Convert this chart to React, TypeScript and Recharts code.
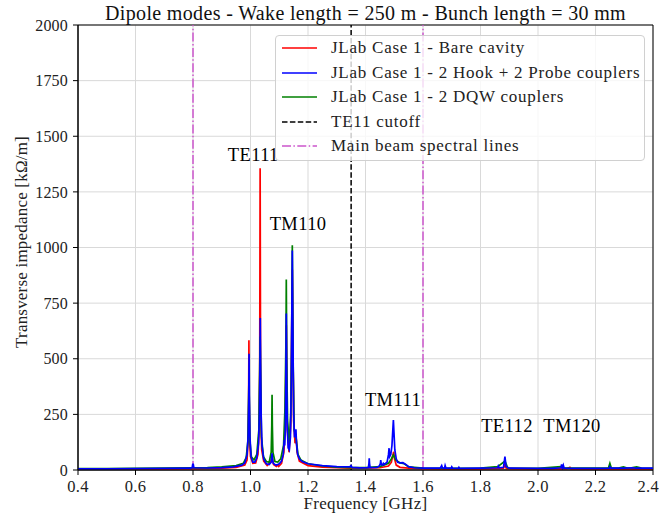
import React from 'react';
import {
  LineChart, Line, XAxis, YAxis, CartesianGrid, ReferenceLine, ReferenceArea, ReferenceDot,
} from 'recharts';

// [frequency GHz, transverse impedance kΩ/m]
const bareCavity: [number, number][] = [
  [0.4, 4], [0.5, 4], [0.6, 5], [0.7, 5], [0.8, 6], [0.9, 8], [0.95, 12], [0.98, 22],
  [0.988, 45], [0.992, 140], [0.9935, 300], [0.9945, 583], [0.9955, 300], [0.997, 130],
  [1.0, 60], [1.008, 30], [1.018, 32], [1.026, 70], [1.03, 180], [1.032, 450], [1.0335, 1356],
  [1.035, 450], [1.0365, 200], [1.039, 90], [1.046, 40], [1.058, 20], [1.07, 35], [1.075, 60],
  [1.08, 25], [1.09, 16], [1.0946, 22], [1.098, 16], [1.108, 30], [1.116, 80], [1.121, 200],
  [1.1245, 650], [1.128, 180], [1.134, 80], [1.14, 200], [1.1454, 900], [1.15, 220],
  [1.155, 120], [1.158, 160], [1.162, 80], [1.17, 40], [1.2, 20], [1.25, 13], [1.3, 10],
  [1.35, 8], [1.4, 8], [1.45, 10], [1.48, 18], [1.49, 35], [1.495, 65], [1.498, 82],
  [1.501, 50], [1.507, 22], [1.52, 12], [1.55, 8], [1.6, 6], [1.7, 5], [1.8, 5], [1.88, 8],
  [1.885, 25], [1.89, 6], [2.0, 5], [2.1, 6], [2.111, 12], [2.115, 5], [2.2, 5], [2.3, 5],
  [2.4, 5],
];

const hookProbe: [number, number][] = [
  [0.4, 5], [0.5, 5], [0.6, 6], [0.7, 7], [0.79, 8], [0.797, 10], [0.799, 25], [0.801, 25],
  [0.803, 10], [0.85, 9], [0.9, 11], [0.94, 14], [0.97, 22], [0.98, 32], [0.988, 70],
  [0.992, 160], [0.994, 330], [0.995, 522], [0.996, 330], [0.998, 150], [1.002, 60],
  [1.008, 35], [1.015, 35], [1.022, 55], [1.028, 120], [1.031, 250], [1.033, 480], [1.034, 683],
  [1.035, 480], [1.037, 250], [1.04, 110], [1.046, 50], [1.055, 28], [1.065, 25], [1.072, 35],
  [1.074, 60], [1.075, 75], [1.076, 55], [1.079, 30], [1.088, 22], [1.094, 24], [1.1, 28],
  [1.108, 40], [1.114, 70], [1.117, 135], [1.119, 110], [1.121, 180], [1.123, 400],
  [1.1245, 703], [1.126, 400], [1.128, 190], [1.131, 100], [1.135, 90], [1.139, 150],
  [1.142, 400], [1.144, 750], [1.1454, 986], [1.147, 700], [1.15, 260], [1.153, 150],
  [1.156, 150], [1.158, 183], [1.16, 120], [1.164, 70], [1.17, 50], [1.18, 38], [1.2, 28],
  [1.25, 20], [1.3, 15], [1.345, 14], [1.35, 20], [1.353, 12], [1.38, 10], [1.41, 11],
  [1.412, 30], [1.413, 53], [1.414, 30], [1.416, 11], [1.44, 12], [1.448, 18], [1.452, 30],
  [1.453, 45], [1.455, 25], [1.459, 22], [1.462, 30], [1.465, 25], [1.475, 35], [1.48, 70],
  [1.482, 98], [1.484, 60], [1.488, 70], [1.492, 110], [1.495, 180], [1.497, 225],
  [1.499, 170], [1.502, 90], [1.507, 50], [1.512, 35], [1.52, 32], [1.53, 33], [1.54, 25],
  [1.55, 15], [1.57, 10], [1.6, 8], [1.66, 8], [1.665, 20], [1.668, 8], [1.675, 8],
  [1.677, 20], [1.68, 8], [1.698, 8], [1.7, 14], [1.703, 8], [1.723, 7], [1.725, 12],
  [1.728, 7], [1.8, 8], [1.86, 10], [1.862, 18], [1.865, 10], [1.88, 12], [1.885, 60],
  [1.889, 15], [1.9, 8], [2.0, 7], [2.05, 7], [2.08, 10], [2.082, 25], [2.085, 10],
  [2.088, 22], [2.091, 8], [2.15, 7], [2.2, 7], [2.248, 8], [2.25, 15], [2.254, 8],
  [2.3, 8], [2.33, 10], [2.34, 8], [2.4, 8],
];

const dqw: [number, number][] = [
  [0.4, 6], [0.5, 6], [0.6, 7], [0.7, 8], [0.8, 10], [0.85, 11], [0.9, 14], [0.95, 20],
  [0.975, 30], [0.985, 55], [0.991, 130], [0.9945, 400], [0.998, 130], [1.003, 60],
  [1.012, 45], [1.022, 70], [1.029, 180], [1.0335, 600], [1.038, 150], [1.045, 60],
  [1.055, 38], [1.065, 35], [1.072, 80], [1.074, 200], [1.075, 338], [1.076, 200],
  [1.078, 80], [1.085, 38], [1.095, 36], [1.105, 50], [1.115, 110], [1.12, 280],
  [1.1235, 600], [1.1245, 856], [1.126, 500], [1.129, 220], [1.135, 120], [1.14, 250],
  [1.143, 550], [1.1454, 1010], [1.148, 500], [1.152, 180], [1.158, 150], [1.165, 70],
  [1.175, 45], [1.2, 28], [1.25, 18], [1.3, 13], [1.35, 11], [1.4, 11], [1.45, 15],
  [1.48, 30], [1.49, 50], [1.497, 68], [1.505, 45], [1.52, 32], [1.535, 28], [1.55, 14],
  [1.6, 8], [1.7, 7], [1.8, 8], [1.86, 15], [1.885, 40], [1.895, 9], [2.0, 7], [2.08, 15],
  [2.09, 8], [2.2, 8], [2.245, 9], [2.25, 30], [2.255, 9], [2.28, 9], [2.297, 14],
  [2.31, 9], [2.325, 10], [2.343, 14], [2.36, 9], [2.4, 7],
];

const cutoffFreq = 1.35;
const beamLines = [0.8, 1.6];
const xTicks = [0.4, 0.6, 0.8, 1.0, 1.2, 1.4, 1.6, 1.8, 2.0, 2.2, 2.4];
const yTicks = [0, 250, 500, 750, 1000, 1250, 1500, 1750, 2000];
const modeLabels = [
  { name: 'TE111', f: 1.0097, z: 1416 },
  { name: 'TM110', f: 1.1654, z: 1106 },
  { name: 'TM111', f: 1.4956, z: 315 },
  { name: 'TE112', f: 1.8922, z: 196 },
  { name: 'TM120', f: 2.1183, z: 196 },
];
const legendItems = [
  { label: 'JLab Case 1 - Bare cavity', color: '#ff0000', dash: '' },
  { label: 'JLab Case 1 - 2 Hook + 2 Probe couplers', color: '#0000ff', dash: '' },
  { label: 'JLab Case 1 - 2 DQW couplers', color: '#008000', dash: '' },
  { label: 'TE11 cutoff', color: '#000000', dash: '5.5 2.4' },
  { label: 'Main beam spectral lines', color: '#cc55cc', dash: '9 2.4 1.5 2.4' },
];

const toRows = (pts: [number, number][]) => pts.map(([f, z]) => ({ f, z }));
const FONT = '"Liberation Serif", serif';

export default function App() {
  return (
    <div style={{ position: 'absolute', left: 0, top: 0, width: 659, height: 519, background: '#fff', fontFamily: FONT }}>
      <LineChart width={659} height={519} margin={{ top: 25, right: 6, left: 0, bottom: 0 }}>
        <CartesianGrid stroke="#d9d9d9" strokeWidth={1} vertical horizontal />
        <XAxis
          dataKey="f" type="number" domain={[0.4, 2.4]} ticks={xTicks} allowDataOverflow
          tickFormatter={(v: number) => v.toFixed(1)} height={49} tickSize={5} tickMargin={5}
          stroke="#000" tick={{ fill: '#222', fontSize: 16.5, fontFamily: FONT, letterSpacing: 0.3 }}
        />
        <YAxis
          type="number" domain={[0, 2000]} ticks={yTicks} allowDataOverflow width={78}
          tickSize={5} tickMargin={5} stroke="#000" tick={{ fill: '#222', fontSize: 16, fontFamily: FONT, letterSpacing: 0.2 }}
        />
        {beamLines.map((x) => (
          <ReferenceLine key={x} x={x} stroke="#cc55cc" strokeWidth={1.5} strokeDasharray="9 2.4 1.5 2.4" />
        ))}
        <ReferenceLine x={cutoffFreq} stroke="#000" strokeWidth={1.5} strokeDasharray="5.5 2.4" />
        <Line data={toRows(bareCavity)} dataKey="z" type="linear" stroke="#ff0000" strokeWidth={1.7} dot={false} isAnimationActive={false} />
        <Line data={toRows(dqw)} dataKey="z" type="linear" stroke="#008000" strokeWidth={1.7} dot={false} isAnimationActive={false} />
        <Line data={toRows(hookProbe)} dataKey="z" type="linear" stroke="#0000ff" strokeWidth={1.7} dot={false} isAnimationActive={false} />
        {modeLabels.map((m) => (
          <ReferenceDot
            key={m.name} x={m.f} y={m.z} r={0}
            shape={(p: any) => (
              <text x={p.cx} y={p.cy} textAnchor="middle" dominantBaseline="central" fontSize={18.5} letterSpacing={0.4} fontFamily={FONT} fill="#000">
                {m.name}
              </text>
            )}
          />
        ))}
        <ReferenceArea x1={0.4} x2={2.4} y1={0} y2={2000} fill="none" stroke="#000" strokeWidth={1} />
      </LineChart>

      <div style={{ position: 'absolute', left: 0, width: 659, top: 2, textAlign: 'center', fontSize: 20, letterSpacing: 0.35, color: '#111', paddingLeft: 72, boxSizing: 'border-box', whiteSpace: 'nowrap' }}>
        Dipole modes - Wake length = 250 m - Bunch length = 30 mm
      </div>
      <div style={{ position: 'absolute', left: 78, width: 575, top: 494, textAlign: 'center', fontSize: 17, letterSpacing: 0.3, color: '#222' }}>
        Frequency [GHz]
      </div>
      <div style={{ position: 'absolute', left: 22, top: 242, transform: 'translate(-50%, -50%) rotate(-90deg)', fontSize: 17, letterSpacing: 0.2, color: '#222', whiteSpace: 'nowrap' }}>
        Transverse impedance [kΩ/m]
      </div>

      <div style={{ position: 'absolute', left: 275, top: 35, width: 370, height: 126, boxSizing: 'border-box', background: 'rgba(255,255,255,0.8)', border: '1px solid #d0d0d0', borderRadius: 4 }}>
        {legendItems.map((it, i) => (
          <div key={it.label} style={{ position: 'absolute', left: 6, top: 12.3 + i * 24.5 - 10, height: 20, display: 'flex', alignItems: 'center', whiteSpace: 'nowrap' }}>
            <svg width={36} height={6} style={{ marginRight: 13 }}>
              <line x1={0} y1={3} x2={35} y2={3} stroke={it.color} strokeWidth={1.6} strokeDasharray={it.dash || undefined} />
            </svg>
            <span style={{ fontSize: 17, letterSpacing: 0.75, color: '#222' }}>{it.label}</span>
          </div>
        ))}
      </div>
    </div>
  );
}
